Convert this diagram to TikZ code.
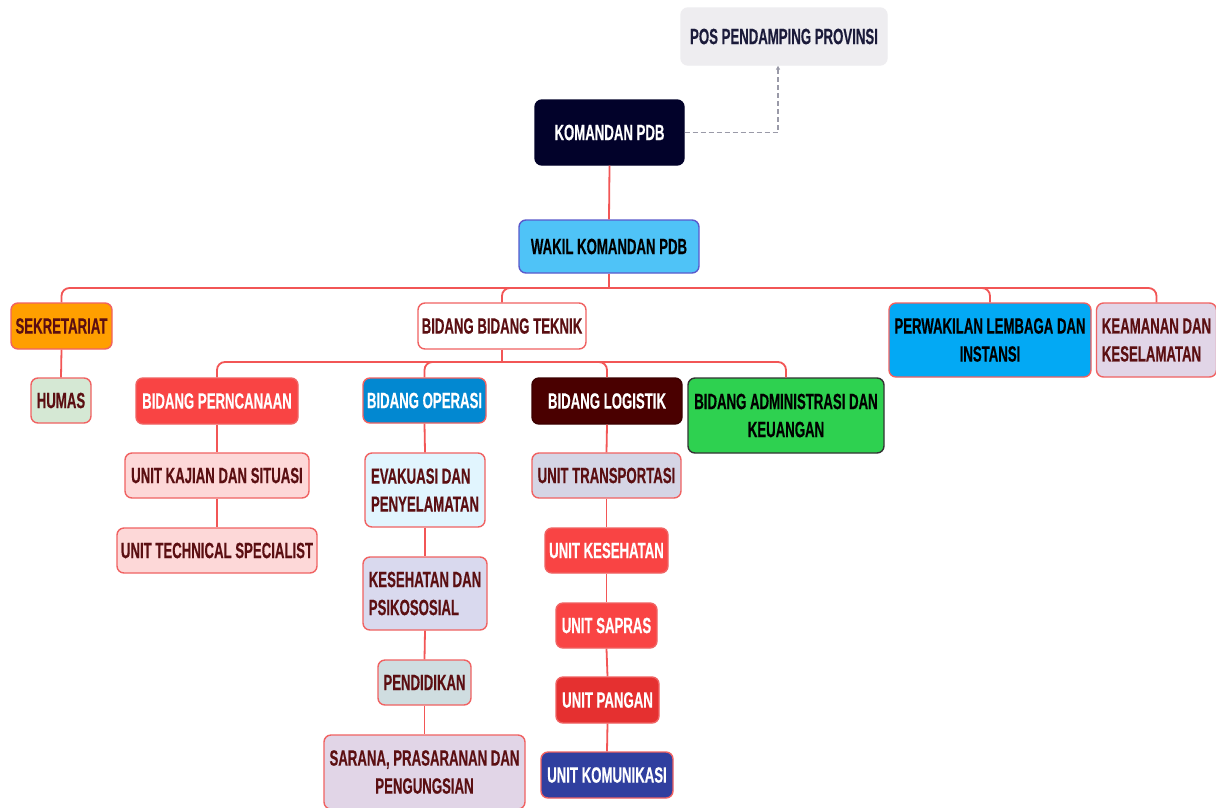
\documentclass[tikz,border=0pt]{standalone}
\usepackage{fontspec}
\setmainfont{Liberation Sans}[FakeStretch=0.6, BoldFeatures={FakeBold=0.4}]
\usetikzlibrary{arrows.meta}
\definecolor{lnred}{HTML}{F25656}
\definecolor{bdred}{HTML}{F06262}
\definecolor{maroon}{HTML}{5B0F12}
\definecolor{navy}{HTML}{1B1B3A}
\definecolor{dashg}{HTML}{9A9AA8}
\tikzset{
  box/.style 2 args={draw=bdred, line width=1.4pt, rounded corners=7pt, inner sep=0pt,
    minimum width=#1pt, minimum height=#2pt, align=center,
    font=\fontsize{22}{28}\selectfont\bfseries, text=maroon},
  conn/.style={draw=lnred, line width=1.8pt, rounded corners=8pt},
  dconn/.style={draw=dashg, line width=1.6pt, dash pattern=on 5pt off 3pt,
    -{Triangle[length=4pt,width=4pt]}},
  wtext/.style={text=white}
}
\begin{document}
\begin{tikzpicture}[x=1pt,y=-1pt]
\clip (0,0) rectangle (1216,807);
\fill[white] (0,0) rectangle (1216,807);
% top
\node[box={206}{57}, fill={rgb,255:red,238;green,237;blue,240}, draw={rgb,255:red,238;green,237;blue,240}, text=navy] (pos) at (784,36.5) {POS PENDAMPING PROVINSI};
\node[box={149}{65}, fill={rgb,255:red,2;green,2;blue,42}, draw={rgb,255:red,2;green,2;blue,42}, wtext] (kom) at (609.5,132.5) {KOMANDAN PDB};
\node[box={180}{53}, fill={rgb,255:red,79;green,195;blue,247}, draw={rgb,255:red,90;green,90;blue,204}, text=black] (wakil) at (609,246.5) {WAKIL KOMANDAN PDB};
% level 2
\node[box={101}{46}, fill={rgb,255:red,255;green,159;blue,0}] (sek) at (61.5,326) {SEKRETARIAT};
\node[box={60}{45}, fill={rgb,255:red,213;green,232;blue,212}] (humas) at (61,400.5) {HUMAS};
\node[box={168}{46}, fill=white] (tek) at (502,326) {BIDANG BIDANG TEKNIK};
\node[box={202}{74}, fill={rgb,255:red,3;green,169;blue,244}, text=black] (perw) at (990,340) {PERWAKILAN LEMBAGA DAN\\INSTANSI};
\node[box={120}{74}, fill={rgb,255:red,225;green,213;blue,231}, align=left] (kea) at (1156.5,340) {KEAMANAN DAN\\KESELAMATAN};
% level 3
\node[box={162}{46}, fill={rgb,255:red,249;green,68;blue,68}, wtext] (per) at (217,401) {BIDANG PERNCANAAN};
\node[box={184}{45}, fill={rgb,255:red,253;green,216;blue,216}] (kaj) at (217,475.5) {UNIT KAJIAN DAN SITUASI};
\node[box={200}{45}, fill={rgb,255:red,253;green,216;blue,216}] (tech) at (217,550.5) {UNIT TECHNICAL SPECIALIST};
\node[box={123}{45}, fill={rgb,255:red,2;green,136;blue,209}, wtext] (ops) at (424.5,400.5) {BIDANG OPERASI};
\node[box={120}{74}, fill={rgb,255:red,225;green,245;blue,254}, align=left] (eva) at (425,490) {EVAKUASI DAN\\PENYELAMATAN};
\node[box={124}{73}, fill={rgb,255:red,217;green,217;blue,238}, align=left] (kes) at (425,593.5) {KESEHATAN DAN\\PSIKOSOSIAL};
\node[box={93}{45}, fill={rgb,255:red,207;green,221;blue,224}] (pend) at (424.5,682.5) {PENDIDIKAN};
\node[box={201}{74}, fill={rgb,255:red,225;green,213;blue,231}] (sar) at (424.5,772) {SARANA, PRASARANAN DAN\\PENGUNGSIAN};
\node[box={150}{46}, fill={rgb,255:red,74;green,0;blue,0}, draw={rgb,255:red,60;green,0;blue,0}, wtext] (log) at (607,401) {BIDANG LOGISTIK};
\node[box={149}{45}, fill={rgb,255:red,213;green,213;blue,229}] (tra) at (606.5,475.5) {UNIT TRANSPORTASI};
\node[box={123}{45}, fill={rgb,255:red,249;green,68;blue,68}, wtext] (ukes) at (606.5,550.5) {UNIT KESEHATAN};
\node[box={101}{45}, fill={rgb,255:red,249;green,68;blue,68}, wtext] (sap) at (606.5,625.5) {UNIT SAPRAS};
\node[box={103}{46}, fill={rgb,255:red,229;green,48;blue,48}, wtext] (pan) at (607.5,700) {UNIT PANGAN};
\node[box={132}{46}, fill={rgb,255:red,48;green,63;blue,159}, wtext] (kom2) at (607,775) {UNIT KOMUNIKASI};
\node[box={196}{75}, fill={rgb,255:red,46;green,209;blue,80}, draw={rgb,255:red,51;green,51;blue,51}, text=black] (adm) at (786,415.5) {BIDANG ADMINISTRASI DAN\\KEUANGAN};
% connectors
\draw[dconn] (kom.east) -| ([xshift=-6pt]pos.south);
\draw[conn] (kom.south) -- (wakil.north);
\coordinate (b1) at (609,288);
\draw[conn] (wakil.south) -- (b1);
\draw[conn] (b1) -| (sek.north);
\draw[conn] (b1) -| (tek.north);
\draw[conn] (b1) -| (perw.north);
\draw[conn] (b1) -| (kea.north);
\draw[conn] (sek.south) -- (humas.north);
\coordinate (b2) at (502,362);
\draw[conn] (tek.south) -- (b2);
\draw[conn] (b2) -| (per.north);
\draw[conn] (b2) -| (ops.north);
\draw[conn] (b2) -| (log.north);
\draw[conn] (b2) -| (adm.north);
\draw[conn] (per.south) -- (kaj.north);
\draw[conn] (kaj.south) -- (tech.north);
\draw[conn] (ops.south) -- (eva.north);
\draw[conn] (eva.south) -- (kes.north);
\draw[conn] (kes.south) -- (pend.north);
\draw[conn] (pend.south) -- (sar.north);
\draw[conn] (log.south) -- (tra.north);
\draw[conn] (tra.south) -- (ukes.north);
\draw[conn] (ukes.south) -- (sap.north);
\draw[conn] (sap.south) -- (pan.north);
\draw[conn] (pan.south) -- (kom2.north);
\end{tikzpicture}
\end{document}
